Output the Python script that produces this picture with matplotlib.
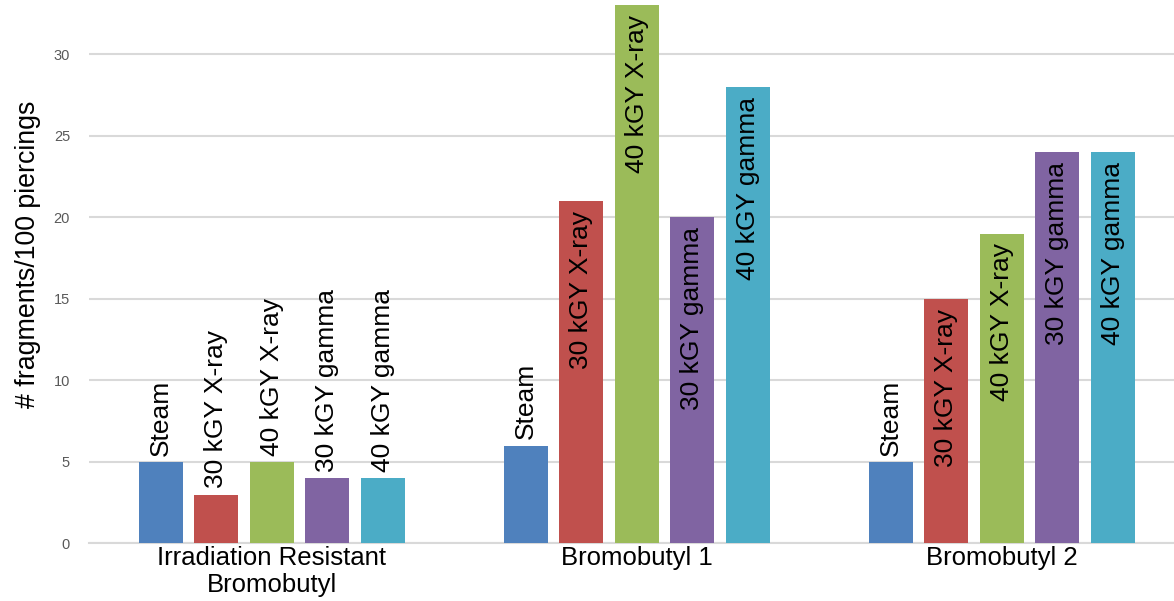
import numpy as np
import matplotlib
matplotlib.use("Agg")
from matplotlib import pyplot as plt

plt.rcParams['font.family'] = ['Liberation Sans', 'DejaVu Sans']

materials = ["Irradiation Resistant\nBromobutyl", "Bromobutyl 1", "Bromobutyl 2"]
treatments = ["Steam", "30 kGY X-ray", "40 kGY X-ray", "30 kGY gamma", "40 kGY gamma"]
steam = [5, 6, 5]
xray_30 = [3, 21, 15]
xray_40 = [5, 33, 19]
gamma_30 = [4, 20, 24]
gamma_40 = [4, 28, 24]
colors = ["#4F81BD", "#C0504D", "#9BBB59", "#8064A2", "#4BACC6"]

series = [steam, xray_30, xray_40, gamma_30, gamma_40]

fig = plt.figure(figsize=(11.74, 6.01), dpi=100)
ax = fig.add_axes([0.0762, 0.0957, 0.9327, 0.906])

x = np.arange(len(materials))
pitch = 0.152
width = 0.1205
for i, (name, vals) in enumerate(zip(treatments, series)):
    pos = x + (i - 2) * pitch
    ax.bar(pos, vals, width, color=colors[i], zorder=3)
    for px, v in zip(pos, vals):
        # tall bars get the name inside, short ones above
        if v >= 15:
            ax.annotate(name, (px, v), xytext=(0, -7), textcoords='offset points',
                        rotation=90, ha='center', va='top', fontsize=19, zorder=4)
        else:
            ax.annotate(name, (px, v), xytext=(0, 4.5), textcoords='offset points',
                        rotation=90, ha='center', va='bottom', fontsize=19, zorder=4)

ax.set_xlim(-0.5, 2.5)
ax.set_ylim(0, 33.4)
ax.set_yticks(range(0, 31, 5))
ax.set_xticks(x)
ax.set_xticklabels(materials, fontsize=18.5, linespacing=1.12)
ax.tick_params(axis='x', length=0, pad=2)
ax.tick_params(axis='y', length=0, pad=14, labelsize=10.5, labelcolor='#595959')
ax.set_ylabel('# fragments/100 piercings', fontsize=19.3)
ax.yaxis.set_label_coords(-0.044, 0.531)

ax.grid(axis='y', color='#D9D9D9', linewidth=1.5, zorder=0)
for s in ['left', 'right', 'top']:
    ax.spines[s].set_visible(False)
ax.spines['bottom'].set_color('#D9D9D9')
ax.spines['bottom'].set_linewidth(1.5)

plt.savefig('out.png', dpi=100)
